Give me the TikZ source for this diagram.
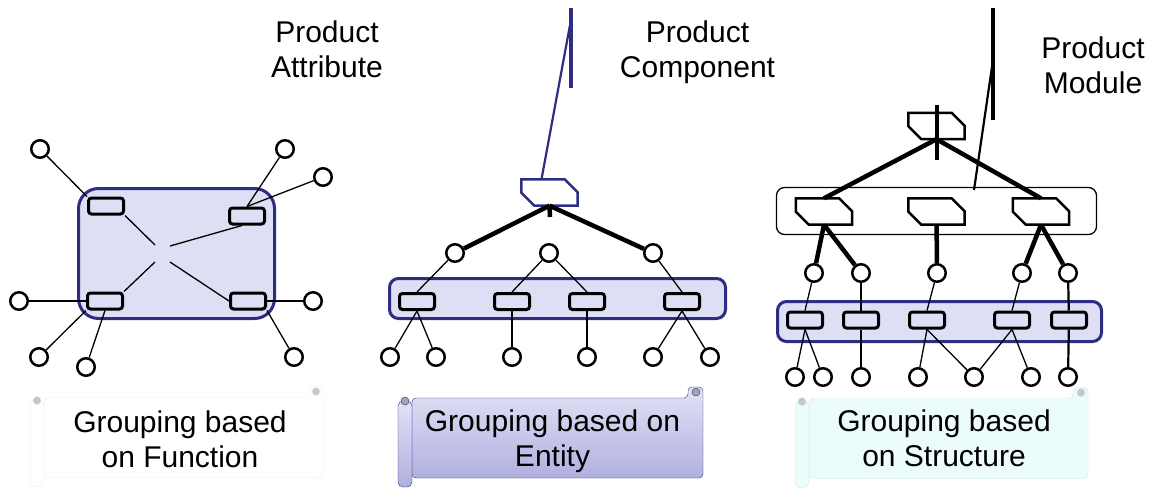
\documentclass[tikz,border=0pt]{standalone}
\usepackage{fontspec}
\setmainfont{Liberation Sans}

\definecolor{navy}{RGB}{45,45,130}
\definecolor{haze}{RGB}{222,222,244}
\definecolor{lilac}{RGB}{226,226,246}
\definecolor{lilacdark}{RGB}{176,176,224}
\definecolor{mint}{RGB}{236,251,252}
\definecolor{mintedge}{RGB}{200,232,238}

\tikzset{
	pics/scroll/.style n args={4}{code={
		\draw [draw=#3,#2,rounded corners=4pt] (-#1+14,-40) -- (#1-15,-40) -- (#1-15,-51)
			-- (#1,-51) -- (#1,40) -- (-#1+14,40) -- cycle;
		\draw [draw=#3,#2,rounded corners=5pt] (-#1,-37) rectangle (-#1+14,49);
		\draw [draw=#3,fill=#4] (-#1+7,-37) circle (4);
		\draw [draw=#3,fill=#4] (#1-7,-46) circle (4);
	}}
}

\begin{document}
\begin{tikzpicture}[x=1pt,y=-1pt,
		every node/.style={inner sep=0pt},
		leaf/.style={circle,draw,fill=white,line width=2.5pt,minimum size=17.5pt},
		unit/.style={rectangle,draw,rounded corners=3pt,line width=3pt,minimum width=35pt,minimum height=16pt},
		tag/.style={rectangle,minimum width=56pt,minimum height=26pt,
			append after command={\pgfextra{\draw [draw=#1,fill=white,line width=2.5pt,line join=miter]
				(\tikzlastnode.north west) -- ([xshift=-13pt]\tikzlastnode.north east)
				-- ([yshift=-13pt]\tikzlastnode.north east) -- (\tikzlastnode.south east)
				-- ([xshift=13pt]\tikzlastnode.south west) -- ([yshift=13pt]\tikzlastnode.south west)
				-- cycle;}}},
		tag/.default=black,
		cluster/.style={draw=navy,fill=haze,line width=3pt,rounded corners=9pt},
		shelf/.style={draw,line width=1.3pt,rounded corners=8pt},
		link/.style={line width=1.3pt},
		stem/.style={line width=2.2pt},
		bond/.style={line width=4.5pt},
		heading/.style={align=center,font=\fontsize{30}{35}\selectfont}]

	\useasboundingbox (0,0) rectangle (1154,488);

	% grouping based on function
	\node [heading] (attr) at (327,49) {Product\\Attribute};
	\node [cluster,rounded corners=20pt,minimum width=196pt,minimum height=130pt] (fn) at (176.5,253.5) {};
	\node [unit] (u1) at (106,206) {};
	\node [unit] (u2) at (247,216) {};
	\node [unit] (u3) at (105,301) {};
	\node [unit] (u4) at (248,301) {};
	\coordinate (x1) at (155,245);
	\coordinate (x2) at (170,246);
	\coordinate (x3) at (155,262);
	\coordinate (x4) at (170,262);
	\draw [link] (u1.south east) -- (x1);
	\draw [link] (x2) -- ([xshift=14pt]u2.south west);
	\draw [link] (x3) -- (u3.north east);
	\draw [link] (x4) -- (u4.west);
	\node [leaf] (a1) at (40,149) {} edge [link] (u1.north west);
	\node [leaf] (a2) at (285,149) {} edge [link] (u2.north);
	\node [leaf] (a3) at (323,177) {} edge [link] (u2.north);
	\node [leaf] (a4) at (19,301) {} edge [link] (u3.west);
	\node [leaf] (a5) at (313,301) {} edge [link] (u4.east);
	\node [leaf] (a6) at (39,357) {} edge [link] (u3.south west);
	\node [leaf] (a7) at (86,367) {} edge [link] (u3.south);
	\node [leaf] (a8) at (294,357) {} edge [link] (u4.south east);

	% grouping based on entity
	\node [heading] (comptext) at (697.5,52) {Product\\Component};
	\node [cluster,minimum width=336pt,minimum height=40pt] (en) at (557.5,298.5) {};
	\node [tag=navy] (comp) at (549.5,192.5) {};
	\coordinate (ctop) at (571,8);
	\coordinate (cfoot) at (571,88);
	\coordinate (cknee) at (570,25);
	\coordinate (cstub) at (550,217);
	\draw [navy,line width=4pt] (ctop) -- (cfoot);
	\draw [navy,stem] (cknee) -- ([xshift=-8pt]comp.north);
	\draw [bond] (comp.south) -- (cstub);
	\node [unit] (v1) at (417,301.5) {};
	\node [unit] (v2) at (512,301.5) {};
	\node [unit] (v3) at (587,301.5) {};
	\node [unit] (v4) at (682,301.5) {};
	\node [leaf] (b1) at (455,253) {} edge [bond] (comp.south) edge [link] (v1.north);
	\node [leaf] (b2) at (549,253) {} edge [link] (v2.north) edge [link] (v3.north);
	\node [leaf] (b3) at (653,253) {} edge [bond] (comp.south) edge [link] (v4.north);
	\node [leaf] (c1) at (390,357) {} edge [link] (v1.south);
	\node [leaf] (c2) at (436,357) {} edge [link] (v1.south);
	\node [leaf] (c3) at (512,357) {} edge [stem] (v2);
	\node [leaf] (c4) at (587,357) {} edge [stem] (v3);
	\node [leaf] (c5) at (653,357) {} edge [link] (v4.south);
	\node [leaf] (c6) at (710,357) {} edge [link] (v4.south);

	% grouping based on structure
	\node [heading] (modtext) at (1093,65) {Product\\Module};
	\node [shelf,minimum width=320pt,minimum height=47pt] (mods) at (936.5,211) {};
	\node [cluster,minimum width=324pt,minimum height=40pt] (st) at (939.5,321.5) {};
	\node [tag] (top) at (936.5,126) {};
	\node [tag] (m1) at (824,211.5) {};
	\node [tag] (m2) at (936.5,211.5) {};
	\node [tag] (m3) at (1041,211.5) {};
	\coordinate (mtop) at (993,8);
	\coordinate (mfoot) at (993,120);
	\coordinate (mknee) at (993,60);
	\coordinate (mend) at (974,190);
	\coordinate (pin1) at (937,105);
	\coordinate (pin2) at (937,160);
	\draw [line width=4pt] (mtop) -- (mfoot);
	\draw [stem] (mknee) -- (mend);
	\draw [bond] (top.south) -- (m1.north);
	\draw [bond] (top.south) -- (m3.north);
	\draw [bond] (pin1) -- (pin2);
	\node [unit] (w1) at (805,320) {};
	\node [unit] (w2) at (861,320) {};
	\node [unit] (w3) at (927,320) {};
	\node [unit] (w4) at (1012,320) {};
	\node [unit] (w5) at (1069,320) {};
	\node [leaf] (d1) at (814,273) {} edge [bond] (m1.south) edge [link] (w1.north);
	\node [leaf] (d2) at (861,273) {} edge [bond] (m1.south) edge [stem] (w2);
	\node [leaf] (d3) at (937,273) {} edge [bond] (m2) edge [link] (w3.north);
	\node [leaf] (d4) at (1022,273) {} edge [bond] (m3.south) edge [link] (w4.north);
	\node [leaf] (d5) at (1068,273) {} edge [bond] (m3.south) edge [stem] (w5);
	\node [leaf] (e1) at (795,377) {} edge [link] (w1.south);
	\node [leaf] (e2) at (823,377) {} edge [link] (w1.south);
	\node [leaf] (e3) at (861,377) {} edge [stem] (w2);
	\node [leaf] (e4) at (918,377) {} edge [link] (w3.south);
	\node [leaf] (e5) at (974,377) {} edge [link] (w3.south) edge [link] (w4.south);
	\node [leaf] (e6) at (1031,377) {} edge [link] (w4.south);
	\node [leaf] (e7) at (1068,377) {} edge [stem] (w5);

	% banners
	\pic at (176.5,437.5) {scroll={146.5}{fill=white}{black!8}{black!22}};
	\pic at (550.5,438) {scroll={152.5}{top color=lilac,bottom color=lilacdark}{navy}{black!35}};
	\pic at (941.5,438.5) {scroll={146.5}{fill=mint}{mintedge}{black!22}};
	\node [heading] (fnote) at (180,439.5) {Grouping based\\on Function};
	\node [heading] (enote) at (552.5,441.5) {Grouping based on\\Entity};
	\node [heading] (snote) at (944,438) {Grouping based\\on Structure};

\end{tikzpicture}
\end{document}
